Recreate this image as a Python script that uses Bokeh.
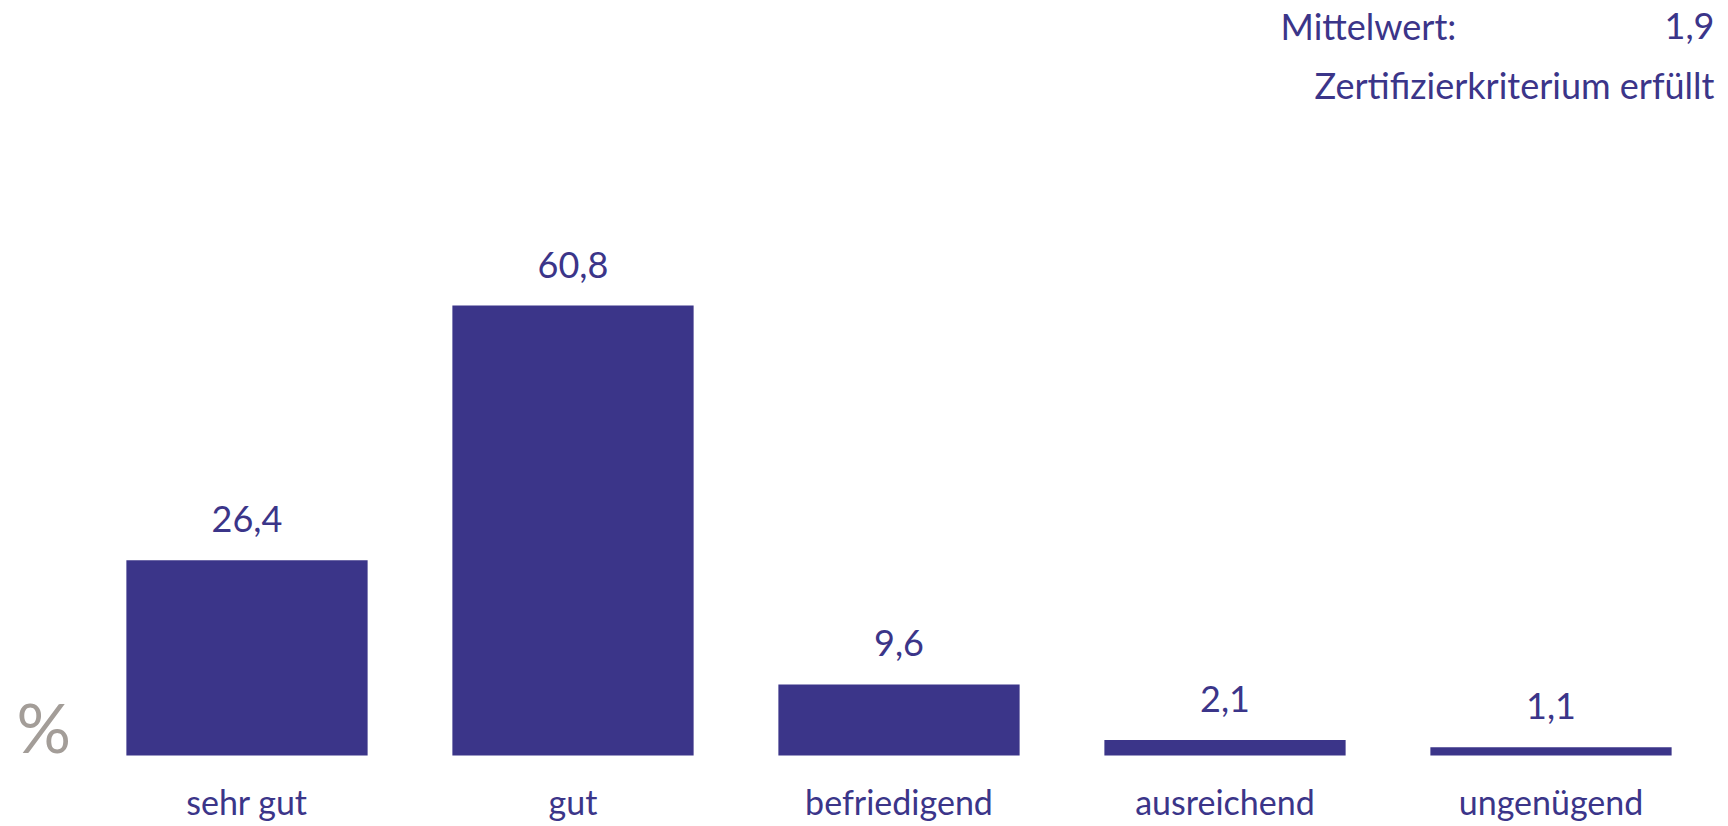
from bokeh.plotting import figure
from bokeh.models import ColumnDataSource, LabelSet, Label, Range1d
from bokeh.core.properties import value
from bokeh.embed import file_html
from bokeh.resources import INLINE

# data
categories = ["sehr gut", "gut", "befriedigend", "ausreichend", "ungenügend"]
values = [26.4, 60.8, 9.6, 2.1, 1.1]
value_labels = ["26,4", "60,8", "9,6", "2,1", "1,1"]
mean_label = "Mittelwert:"
mean_value = "1,9"
criterion_text = "Zertifizierkriterium erfüllt"
unit_label = "%"

BAR = "#3b3589"
TXT = "#3b3589"
GREY = "#a39d98"
FONT = "Lato"
FS = "36px"
CAT_FS = "34px"

# layout (pixels in the picture)
W, H = 1720, 826
base_px = 755          # y pixel of the zero line
first_center = 246.5   # x pixel of first category centre
step = 326.0           # pixels per category
ppu = 7.40             # pixels per percent
shift = 12             # baseline correction for text rendering

idx = list(range(len(categories)))

p = figure(width=W, height=H, output_backend="svg", toolbar_location=None,
           x_range=Range1d(-first_center / step, (W - first_center) / step),
           y_range=Range1d(-(H - base_px) / ppu, base_px / ppu),
           x_axis_location=None, y_axis_location=None,
           min_border_left=0, min_border_right=0,
           min_border_top=0, min_border_bottom=0,
           background_fill_color="white", border_fill_color="white")
p.outline_line_color = None
p.xgrid.visible = False
p.ygrid.visible = False

src = ColumnDataSource(dict(x=idx, cat=categories, val=values, lab=value_labels,
                            zero=[0] * len(categories)))
p.vbar(x="x", top="val", width=0.74, source=src, fill_color=BAR, line_color=None)

p.add_layout(LabelSet(x="x", y="val", text="lab", source=src, y_offset=28,
                      text_align="center", text_baseline="alphabetic",
                      text_font=value(FONT), text_font_size=value(FS),
                      text_color=TXT))
p.add_layout(LabelSet(x="x", y="zero", text="cat", source=src, y_offset=-59,
                      text_align="center", text_baseline="alphabetic",
                      text_font=value(FONT), text_font_size=value(CAT_FS),
                      text_color=TXT))

def sx(px):
    return (px - first_center) / step
def sy(py):
    return (base_px - py) / ppu

def lab(px, py, text, align, size=FS, color=TXT):
    p.add_layout(Label(x=sx(px), y=sy(py - shift), text=text, text_align=align,
                       text_baseline="alphabetic", text_font=FONT,
                       text_font_size=size, text_color=color))

lab(1280, 37, mean_label, "left")
lab(1714, 37, mean_value, "right")
lab(1714, 96, criterion_text, "right")
lab(16, 738, unit_label, "left", size="68px", color=GREY)

open("out.html", "w").write(file_html(p, INLINE))
